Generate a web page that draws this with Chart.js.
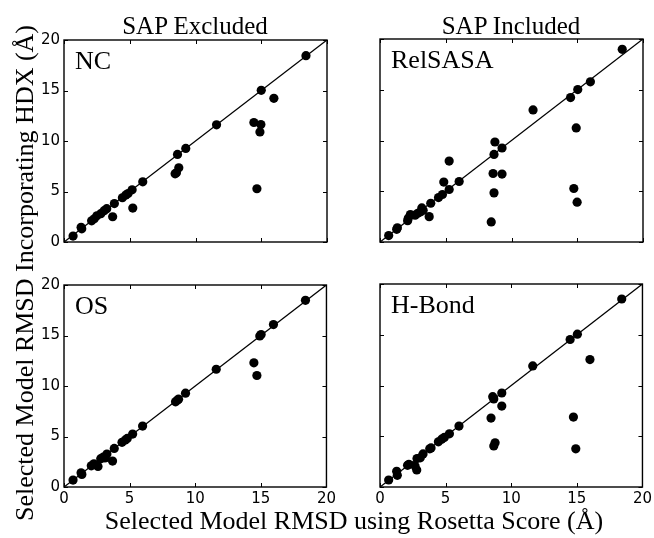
<!DOCTYPE html>
<html lang="en">
<head>
<meta charset="UTF-8">
<title>Selected Model RMSD: HDX vs Rosetta Score</title>
<style>
  body { margin: 0; background: #fff; }
  #fig { position: relative; width: 654px; height: 538px; overflow: hidden; background: #fff;
         font-family: "Liberation Serif", "DejaVu Serif", serif; color: #000; }
  #fig canvas { position: absolute; }
  .txt { position: absolute; white-space: nowrap; font-size: 26px; line-height: 26px; }
</style>
</head>
<body>
<div id="fig">
  <canvas id="c0" width="319" height="241"></canvas>
  <canvas id="c1" width="319" height="241"></canvas>
  <canvas id="c2" width="319" height="241"></canvas>
  <canvas id="c3" width="319" height="241"></canvas>

  <div class="txt" style="left:45px; top:13px; width:300px; text-align:center; font-size:25px; line-height:25px;">SAP Excluded</div>
  <div class="txt" style="left:361px; top:13px; width:300px; text-align:center; font-size:25px; line-height:25px;">SAP Included</div>
  <div class="txt" style="left:54px; top:508px; width:600px; text-align:center;">Selected Model RMSD using Rosetta Score (Å)</div>
  <div class="txt" style="left:-235px; top:260px; width:520px; text-align:center; transform:rotate(-90deg);">Selected Model RMSD Incorporating HDX (Å)</div>
</div>

<script src="https://cdn.jsdelivr.net/npm/chart.js"></script>
<script>
// tick values shared by every axis
const tickValues = [0, 5, 10, 15, 20];

// panel names
const panelNames = ['NC', 'RelSASA', 'OS', 'H-Bond'];

// NC (SAP excluded)
const ncX = [0.69, 1.3, 1.35, 2.1, 2.3, 2.5, 2.8, 3.05, 3.25, 3.7, 3.83, 4.44, 4.7, 4.87, 5.18, 5.23, 5.99,
             8.45, 8.55, 8.73, 8.63, 9.26, 11.6, 14.44, 14.97, 14.9, 14.67, 15.0, 15.96, 18.4];
const ncY = [0.59, 1.45, 1.3, 2.1, 2.3, 2.6, 2.8, 3.1, 3.3, 2.5, 3.8, 4.38, 4.65, 4.8, 5.17, 3.36, 5.96,
             6.75, 6.85, 7.35, 8.67, 9.26, 11.6, 11.83, 11.63, 10.9, 5.27, 15.02, 14.23, 18.45];

// RelSASA (SAP included)
const relX = [0.66, 1.27, 1.32, 2.1, 2.15, 2.31, 2.67, 2.87, 3.1, 3.18, 3.28, 3.74, 3.86, 4.45, 4.75, 4.85,
              5.26, 5.26, 6.02, 8.46, 8.6, 8.67, 8.67, 8.74, 9.28, 9.28, 11.64, 14.49, 14.74, 14.92, 14.99,
              15.04, 16.0, 18.42];
const relY = [0.63, 1.25, 1.4, 2.1, 2.35, 2.7, 2.64, 2.83, 2.97, 3.36, 3.13, 2.5, 3.82, 4.38, 4.68, 5.9,
              5.17, 7.97, 5.96, 1.98, 6.75, 4.84, 8.63, 9.85, 9.26, 6.69, 13.01, 14.23, 5.27, 11.24, 3.92,
              15.02, 15.78, 18.98];

// OS (SAP excluded)
const osX = [0.69, 1.3, 1.36, 2.08, 2.28, 2.59, 2.8, 3.0, 3.12, 3.27, 3.7, 3.83, 4.42, 4.67, 4.82, 5.23, 5.99,
             8.5, 8.63, 8.73, 9.26, 11.6, 14.47, 14.7, 14.92, 15.02, 15.96, 18.4];
const osY = [0.69, 1.4, 1.25, 2.1, 2.3, 2.04, 2.8, 2.97, 2.87, 3.26, 2.57, 3.82, 4.42, 4.65, 4.81, 5.24, 6.03,
             8.43, 8.6, 8.7, 9.29, 11.66, 12.29, 11.04, 14.96, 15.1, 16.08, 18.48];

// H-Bond (SAP included)
const hbX = [0.66, 1.27, 1.32, 2.1, 2.2, 2.67, 2.8, 2.82, 3.07, 3.28, 3.79, 3.89, 4.45, 4.7, 4.9, 5.29, 6.02,
             8.46, 8.59, 8.67, 8.67, 8.77, 9.28, 9.28, 11.64, 14.49, 14.74, 14.92, 15.04, 16.0, 18.42];
const hbY = [0.69, 1.55, 1.15, 2.14, 2.24, 2.08, 1.68, 2.8, 2.87, 3.26, 3.76, 3.85, 4.45, 4.71, 4.88, 5.24, 6.0,
             6.79, 8.9, 8.67, 4.05, 4.35, 9.26, 7.97, 11.93, 14.53, 6.89, 3.76, 15.06, 12.55, 18.52];

const panelX = [ncX, relX, osX, hbX];
const panelY = [ncY, relY, osY, hbY];

// plot area corners (left, top) for each panel
const plotLeft = [64, 380, 64, 380];
const plotTop = [39, 39, 284, 284];
const showYLabels = [true, false, true, false];
const showXLabels = [false, false, true, true];

const yAxisWidth = 44;
const xAxisHeight = 26;
const padTop = 12;

// frame, inward ticks and panel name drawn on each chart
const framePlugin = {
    id: 'frame',
    afterDatasetsDraw(chart, args, opts) {
        const { ctx, chartArea: a, scales } = chart;
        ctx.save();
        ctx.strokeStyle = '#000';
        ctx.lineWidth = 1;
        ctx.beginPath();
        tickValues.forEach(v => {
            const px = Math.round(scales.x.getPixelForValue(v)) + 0.5;
            const py = Math.round(scales.y.getPixelForValue(v)) + 0.5;
            ctx.moveTo(px, a.bottom); ctx.lineTo(px, a.bottom - 4);
            ctx.moveTo(px, a.top); ctx.lineTo(px, a.top + 4);
            ctx.moveTo(a.left, py); ctx.lineTo(a.left + 4, py);
            ctx.moveTo(a.right, py); ctx.lineTo(a.right - 4, py);
        });
        ctx.stroke();
        ctx.lineWidth = 1.4;
        ctx.strokeRect(a.left, a.top, a.right - a.left, a.bottom - a.top);
        ctx.fillStyle = '#000';
        ctx.font = '26px "Liberation Serif", serif';
        ctx.textBaseline = 'alphabetic';
        ctx.fillText(opts.name, a.left + 11, a.top + 29);
        ctx.restore();
    }
};

function makePanel(i) {
    const canvas = document.getElementById('c' + i);
    canvas.style.left = (plotLeft[i] - yAxisWidth) + 'px';
    canvas.style.top = (plotTop[i] - padTop) + 'px';

    const points = panelX[i].map((x, k) => ({ x: x, y: panelY[i][k] }));

    return new Chart(canvas.getContext('2d'), {
        type: 'scatter',
        data: {
            datasets: [
                {
                    data: points,
                    backgroundColor: '#000',
                    borderWidth: 0,
                    pointRadius: 4.6,
                },
                {
                    // y = x reference line
                    data: [{ x: 0, y: 0 }, { x: 20, y: 20 }],
                    showLine: true,
                    borderColor: '#000',
                    borderWidth: 1.3,
                    pointRadius: 0,
                }
            ]
        },
        options: {
            responsive: false,
            animation: false,
            events: [],
            layout: { padding: { top: padTop, right: 12, left: 0, bottom: 0 } },
            plugins: {
                legend: { display: false },
                tooltip: { enabled: false },
                frame: { name: panelNames[i] }
            },
            scales: {
                x: {
                    type: 'linear',
                    min: 0,
                    max: 20,
                    grid: { display: false, drawTicks: false },
                    border: { display: false },
                    ticks: {
                        display: showXLabels[i],
                        stepSize: 5,
                        padding: 3,
                        color: '#000',
                        font: { family: '"DejaVu Sans"', size: 15 }
                    },
                    afterFit: (scale) => { scale.height = xAxisHeight; }
                },
                y: {
                    type: 'linear',
                    min: 0,
                    max: 20,
                    grid: { display: false, drawTicks: false },
                    border: { display: false },
                    ticks: {
                        display: showYLabels[i],
                        stepSize: 5,
                        padding: 4,
                        color: '#000',
                        font: { family: '"DejaVu Sans"', size: 15 }
                    },
                    afterFit: (scale) => { scale.width = yAxisWidth; }
                }
            }
        },
        plugins: [framePlugin]
    });
}

for (let i = 0; i < 4; i++) makePanel(i);
</script>
</body>
</html>
